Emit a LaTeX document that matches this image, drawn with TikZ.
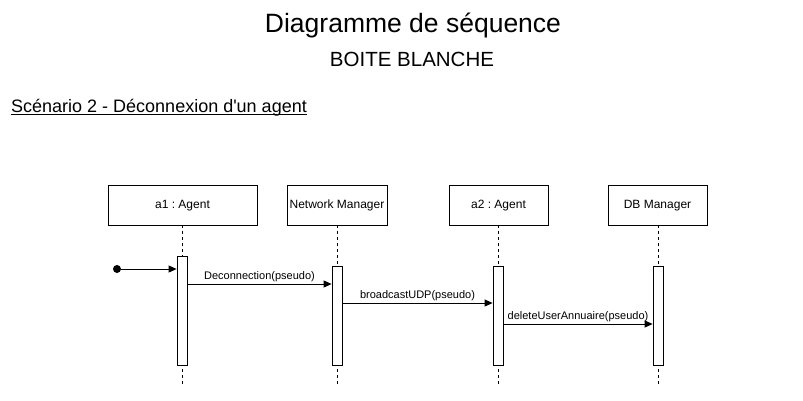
\documentclass[tikz,border=0pt]{standalone}
\usepackage{fontspec}
\setmainfont{Liberation Sans}
\usetikzlibrary{arrows.meta}
\frenchspacing
\begin{document}
\begin{tikzpicture}[x=1pt,y=-1pt,
  obj/.style={draw,line width=0.8pt,minimum height=40pt,inner sep=0pt,text height=9pt,text depth=2.5pt,font=\fontsize{12}{14}\selectfont},
  bar/.style={draw,fill=white,line width=0.8pt,minimum width=10pt,inner sep=0pt},
  life/.style={line width=0.8pt,dash pattern=on 3pt off 3pt},
  msg/.style={line width=0.8pt,-{Triangle[length=8pt,width=7pt]}},
  lbl/.style={font=\fontsize{11}{13}\selectfont,inner sep=1.5pt}]
\useasboundingbox (0,0) rectangle (803,400);
\node[font=\fontsize{26.5}{30}\selectfont,anchor=base] (title) at (413,32.5) {Diagramme de séquence};
\node[font=\fontsize{20.5}{24}\selectfont,anchor=base] (sub) at (412,66) {BOITE BLANCHE};
\node[font=\fontsize{18}{21}\selectfont,anchor=base west,inner sep=0pt] (scen) at (11,112) {Scénario 2 - Déconnexion d\textquotesingle un agent};
\draw[line width=1.5pt] ([yshift=-2.5pt]scen.base west) -- ([yshift=-2.5pt]scen.base east);
% objects
\node[obj,minimum width=149pt] (a1) at (182.5,205) {a1 : Agent};
\node[obj,minimum width=100pt] (nm) at (337,205) {Network Manager};
\node[obj,minimum width=99pt] (a2) at (498.5,205) {a2 : Agent};
\node[obj,minimum width=99pt] (db) at (657.5,205) {DB Manager};
% lifeline ends
\coordinate (a1e) at (182,385);
\coordinate (nme) at (337,385);
\coordinate (a2e) at (498,385);
\coordinate (dbe) at (658,385);
\draw[life] (a1.south -| a1e) -- (a1e);
\draw[life] (nm.south -| nme) -- (nme);
\draw[life] (a2.south -| a2e) -- (a2e);
\draw[life] (db.south -| dbe) -- (dbe);
% activation bars
\node[bar,minimum height=109pt] (a1b) at (182,310.5) {};
\node[bar,minimum height=99pt] (nmb) at (337,315.5) {};
\node[bar,minimum height=99pt] (a2b) at (498,315.5) {};
\node[bar,minimum height=99pt] (dbb) at (658,315.5) {};
% start
\node[circle,fill,inner sep=0pt,minimum size=8pt] (start) at (117,269) {};
\draw[msg] (start) -- (a1b.west |- start);
% messages
\coordinate (m1) at (0,284);
\coordinate (m2) at (0,303);
\coordinate (m3) at (0,324);
\draw[msg] (a1b.east |- m1) -- node[lbl,above] {Deconnection(pseudo)} (nmb.west |- m1);
\draw[msg] (nmb.east |- m2) -- node[lbl,above] {broadcastUDP(pseudo)} (a2b.west |- m2);
\draw[msg] (a2b.east |- m3) -- node[lbl,above] {deleteUserAnnuaire(pseudo)} (dbb.west |- m3);
\end{tikzpicture}
\end{document}
